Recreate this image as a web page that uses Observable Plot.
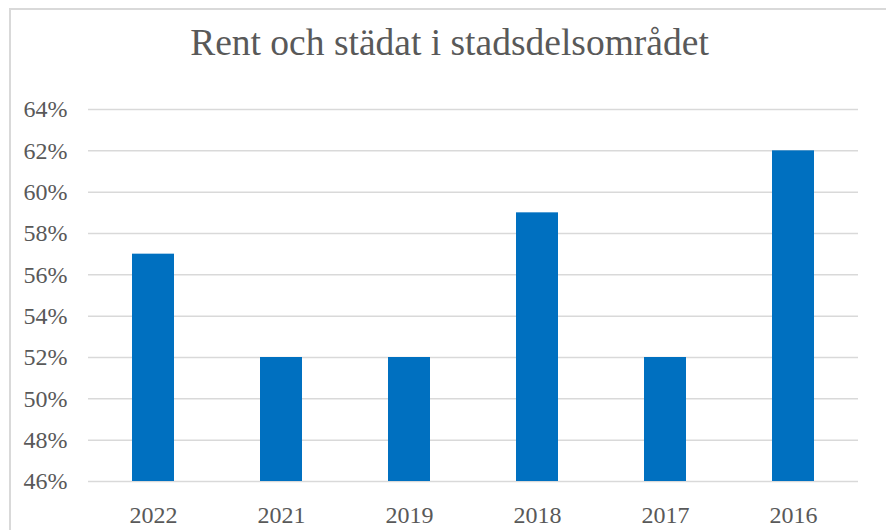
<!DOCTYPE html>
<html>
<head>
<meta charset="utf-8">
<script src="https://cdn.jsdelivr.net/npm/d3@7"></script>
<script src="https://cdn.jsdelivr.net/npm/@observablehq/plot@0.6"></script>
<style>
  html, body { margin: 0; padding: 0; background: #fff; overflow: hidden; }
  #frame { position: absolute; left: 9px; top: 8px; width: 900px; height: 560px; border: 2px solid #d9d9d9; box-sizing: border-box; }
  #title { position: absolute; left: 10px; width: 879px; top: 24px; line-height: 37.5px; text-align: center;
           font-family: "Liberation Serif", "Times New Roman", serif; font-size: 37.5px; color: #595959; }
  #chart { position: absolute; left: 0; top: 0; }
</style>
</head>
<body>
<div id="frame"></div>
<div id="title">Rent och städat i stadsdelsområdet</div>
<div id="chart"></div>
<script>
const years = ["2022", "2021", "2019", "2018", "2017", "2016"];
const values = [0.57, 0.52, 0.52, 0.59, 0.52, 0.62];
const yTicks = [0.46, 0.48, 0.50, 0.52, 0.54, 0.56, 0.58, 0.60, 0.62, 0.64];

const data = years.map((y, i) => ({year: y, value: values[i]}));

const chart = Plot.plot({
  width: 886,
  height: 530,
  marginLeft: 88,
  marginRight: 28,
  marginTop: 109,
  marginBottom: 49,
  style: {background: "transparent", fontFamily: "'Liberation Serif', 'Times New Roman', serif", fontSize: "24px", color: "#595959"},
  x: {domain: years, paddingInner: 0.67, paddingOuter: 0.335, label: null},
  y: {domain: [0.46, 0.64], label: null},
  marks: [
    Plot.ruleY(yTicks, {stroke: "#d9d9d9", strokeWidth: 1.5, strokeOpacity: 1}),
    Plot.barY(data, {x: "year", y1: 0.46, y2: "value", fill: "#0070C0"}),
    Plot.axisY({ticks: yTicks, tickSize: 0, tickPadding: 21, tickFormat: d => Math.round(d * 100) + "%", fill: "#595959", fontSize: 24, label: null}),
    Plot.axisX({tickSize: 0, tickPadding: 24, fill: "#595959", fontSize: 24, label: null})
  ]
});
document.getElementById("chart").appendChild(chart);
</script>
</body>
</html>
